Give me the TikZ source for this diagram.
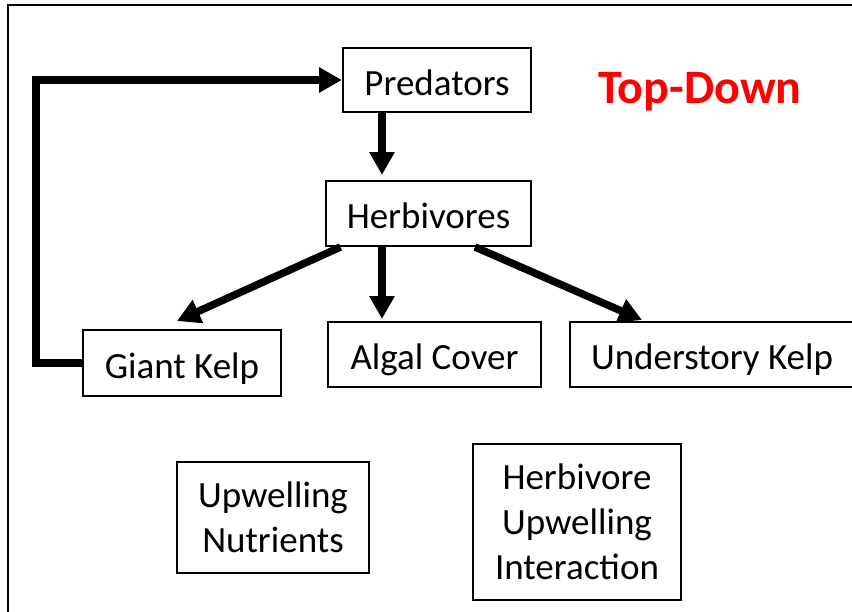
\documentclass[tikz,border=0pt]{standalone}
\usepackage{fontspec}
\setmainfont{Carlito}
\usetikzlibrary{arrows.meta,calc}

\tikzset{
  box/.style={draw=black, line width=2pt, fill=white, inner sep=0pt,
    font=\fontsize{37}{45}\selectfont, align=center},
  oneline/.style={text height=30pt, text depth=0pt},
  link/.style={line width=7.5pt, -{Triangle[length=23pt,width=24pt]}},
  frame/.style={draw=black, line width=2pt}
}

\begin{document}
\begin{tikzpicture}[x=1pt, y=-1pt]
  \useasboundingbox (0,0) rectangle (852,611);
  \clip (0,0) rectangle (852,611);

  % page frame, running off the right and lower edges
  \draw[frame] (8,5) rectangle (880,640);

  % food-web boxes
  \node[box, oneline, minimum width=188pt, minimum height=64pt] (pred) at (437,80) {Predators};
  \node[box, oneline, minimum width=205pt, minimum height=65pt] (herb) at (428.5,213.5) {Herbivores};
  \node[box, oneline, minimum width=198pt, minimum height=66pt] (gk) at (182,363) {Giant Kelp};
  \node[box, oneline, minimum width=213pt, minimum height=65pt] (alg) at (434.5,354.5) {Algal Cover};
  \node[box, oneline, minimum width=284pt, minimum height=65pt] (under) at (712,354.5) {Understory Kelp};
  \node[box, minimum width=192pt, minimum height=111pt] (upw) at (273,517.5) {Upwelling\\Nutrients};
  \node[box, minimum width=208pt, minimum height=156pt] (hui) at (577,522) {Herbivore\\Upwelling\\Interaction};

  % title
  \node[text=red, font=\fontsize{48}{56}\selectfont\bfseries] (title) at (700,92) {Top-Down};

  % feedback from giant kelp back to predators
  \draw[link] (gk.west) -- ++(-46,0) |- (pred.west);

  % predators control herbivores
  \coordinate (p1) at ($(pred.south)+(-55,0)$);
  \draw[link] (p1) -- ($(p1 |- herb.north)+(0,-5)$);

  % herbivores graze the three algal groups
  \coordinate (h1) at ($(herb.south)+(-88,0)$);
  \coordinate (h2) at ($(herb.south)+(-46.5,0)$);
  \coordinate (h3) at ($(herb.south)+(46.5,0)$);
  \draw[link] (h1) -- ($(gk.north)+(-5,-8)$);
  \draw[link] (h2) -- ($(h2 |- alg.north)+(0,-2)$);
  \draw[link] (h3) -- ($(under.north)+(-70,-1)$);
\end{tikzpicture}
\end{document}
